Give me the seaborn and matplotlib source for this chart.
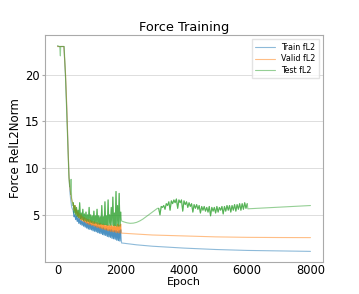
import numpy as np
import pandas as pd
import seaborn as sns
import matplotlib.pyplot as plt

# ---- data ----
# early part (epochs 0-475), one list per run
train_early_ep = [0, 200, 250, 290, 330, 360, 390, 420, 450, 475]
train_early = [23.0, 23.0, 20.0, 16.5, 12.5, 9.5, 7.5, 6.5, 5.8, 5.6]
valid_early_ep = [0, 200, 255, 295, 335, 365, 395, 420, 450, 475]
valid_early = [23.0, 23.0, 20.0, 16.5, 12.0, 9.0, 7.8, 7.2, 6.6, 6.3]
test_early_ep = [0, 50, 70, 90, 100, 210, 250, 290, 330, 360, 385, 400, 415, 430, 445, 460, 475]
test_early = [23.1, 23.0, 23.0, 22.0, 23.0, 23.0, 20.0, 16.0, 12.0, 9.0, 8.0, 8.7, 7.2, 8.8, 6.8, 6.5, 6.0]

# noisy part, epochs 500-2000 every 25
train_noisy = [5.4, 4.8, 5.0, 4.5, 4.9, 4.3, 4.7, 4.1, 4.6, 4.0, 4.4, 3.9, 4.3, 3.8, 4.3, 3.7,
               4.2, 3.6, 4.1, 3.5, 4.1, 3.45, 4.0, 3.4, 3.9, 3.3, 3.9, 3.25, 3.8, 3.2, 3.8, 3.1,
               3.7, 3.05, 3.7, 3.0, 3.6, 2.9, 3.6, 2.85, 3.5, 2.8, 3.5, 2.7, 3.4, 2.65, 3.4, 2.6,
               3.4, 2.5, 3.3, 2.45, 3.3, 2.4, 3.3, 2.3, 3.2, 2.25, 3.3, 2.2, 3.4]
valid_noisy = [6.2, 5.5, 6.0, 5.2, 5.6, 4.9, 5.3, 4.7, 5.1, 4.5, 5.0, 4.4, 4.8, 4.3, 4.7, 4.2,
               4.6, 4.1, 4.5, 4.0, 4.5, 3.95, 4.4, 3.9, 4.3, 3.85, 4.3, 3.8, 4.2, 3.7, 4.2, 3.65,
               4.1, 3.6, 4.1, 3.55, 4.0, 3.5, 4.0, 3.45, 3.9, 3.4, 3.9, 3.35, 3.9, 3.3, 3.85, 3.25,
               3.9, 3.2, 3.8, 3.2, 3.9, 3.15, 3.8, 3.1, 4.0, 3.1, 3.9, 3.05, 4.0]
test_noisy = [6.3, 5.2, 6.0, 5.0, 5.8, 4.8, 5.5, 4.7, 6.3, 4.6, 5.2, 4.5, 5.6, 4.4, 5.1, 4.4,
              5.3, 4.3, 5.0, 4.3, 5.8, 4.2, 5.0, 4.2, 4.9, 4.1, 5.4, 4.1, 4.9, 4.1, 5.6, 4.0,
              4.9, 4.0, 4.8, 4.0, 6.0, 4.0, 4.8, 3.95, 6.4, 3.95, 4.9, 3.9, 6.6, 3.9, 5.0, 3.9,
              5.8, 3.9, 6.9, 3.85, 5.2, 3.85, 7.5, 3.8, 6.0, 3.8, 7.3, 3.8, 5.3]

# late part after epoch 2000
train_late_ep = [2025, 2500, 3000, 4000, 5000, 6000, 7000, 8000]
train_late = [2.0, 1.8, 1.65, 1.45, 1.3, 1.2, 1.15, 1.1]
valid_late_ep = [2025, 2500, 3000, 4000, 5000, 6000, 7000, 8000]
valid_late = [3.05, 2.95, 2.85, 2.75, 2.65, 2.6, 2.58, 2.57]
test_bump_ep = [2025, 2100, 2200, 2300, 2400, 2500, 2600, 2700, 2800, 2900, 3000, 3100, 3160]
test_bump = [4.35, 4.25, 4.15, 4.1, 4.12, 4.2, 4.35, 4.55, 4.8, 5.05, 5.3, 5.55, 5.7]
# test noisy stretch, epochs 3200-6000 every 40
test_noisy2 = [5.7, 5.0, 5.9, 5.8, 6.0, 5.6, 6.2, 6.0, 6.4, 5.5, 6.5, 6.2, 6.6, 6.3, 6.7, 5.7,
               6.6, 6.3, 6.6, 5.4, 6.5, 6.1, 6.4, 5.8, 6.3, 5.9, 6.2, 5.3, 6.1, 5.7, 6.1, 5.6,
               6.0, 5.2, 5.9, 5.5, 5.9, 5.4, 5.8, 5.3, 5.9, 4.9, 5.8, 5.4, 5.8, 5.2, 5.9, 5.3,
               5.8, 5.5, 5.9, 5.1, 5.9, 5.4, 6.0, 5.5, 6.0, 5.3, 6.0, 5.5, 6.1, 5.4, 6.1, 5.6,
               6.2, 5.5, 6.2, 5.6, 6.3, 5.7, 6.2]
test_tail_ep = [6020, 8000]
test_tail = [5.65, 6.0]

runs = ["Train fL2", "Valid fL2", "Test fL2"]


def noisy_epochs(start, step, vals):
    return list(start + step * np.arange(len(vals)))


train_ep = train_early_ep + noisy_epochs(500, 25, train_noisy) + train_late_ep
train_val = train_early + train_noisy + train_late
valid_ep = valid_early_ep + noisy_epochs(500, 25, valid_noisy) + valid_late_ep
valid_val = valid_early + valid_noisy + valid_late
test_ep = (test_early_ep + noisy_epochs(500, 25, test_noisy) + test_bump_ep
           + noisy_epochs(3200, 40, test_noisy2) + test_tail_ep)
test_val = test_early + test_noisy + test_bump + test_noisy2 + test_tail

df = pd.concat([
    pd.DataFrame({"Epoch": train_ep, "val": train_val, "run": runs[0]}),
    pd.DataFrame({"Epoch": valid_ep, "val": valid_val, "run": runs[1]}),
    pd.DataFrame({"Epoch": test_ep, "val": test_val, "run": runs[2]}),
])

# noisy stretches drawn a second time so the dense bands come out darker
noisy = pd.concat([
    pd.DataFrame({"Epoch": noisy_epochs(500, 25, train_noisy), "val": train_noisy, "run": runs[0], "seg": 0}),
    pd.DataFrame({"Epoch": noisy_epochs(500, 25, valid_noisy), "val": valid_noisy, "run": runs[1], "seg": 1}),
    pd.DataFrame({"Epoch": noisy_epochs(500, 25, test_noisy), "val": test_noisy, "run": runs[2], "seg": 2}),
    pd.DataFrame({"Epoch": noisy_epochs(3200, 40, test_noisy2), "val": test_noisy2, "run": runs[2], "seg": 3}),
])

sns.set_style("whitegrid")
plt.rcParams.update({"text.color": "black", "axes.labelcolor": "black",
                     "xtick.color": "black", "ytick.color": "black"})
fig, ax = plt.subplots(figsize=(3.59, 2.94), dpi=100)
fig.subplots_adjust(left=0.125, right=0.9, top=0.88, bottom=0.11)

sns.lineplot(data=df, x="Epoch", y="val", hue="run", hue_order=runs, palette="tab10",
             alpha=0.5, linewidth=0.8, sort=False, estimator=None, ax=ax)
sns.lineplot(data=noisy, x="Epoch", y="val", hue="run", hue_order=runs, palette="tab10",
             units="seg", alpha=0.6, linewidth=0.8, sort=False, estimator=None,
             legend=False, ax=ax)

ax.set_title("Force Training", fontsize=9.3, pad=3)
ax.set_xlabel("Epoch", fontsize=8, labelpad=0)
ax.set_ylabel("Force RelL2Norm", fontsize=8.5, labelpad=2)
ax.set_xticks([0, 2000, 4000, 6000, 8000])
ax.set_yticks([5, 10, 15, 20])
ax.tick_params(axis="both", labelsize=8.3, pad=1.5)
ax.tick_params(axis="y", length=2.5, color="#aaaaaa", left=True)
ax.tick_params(axis="x", length=0)
ax.xaxis.grid(False)
ax.yaxis.grid(True, color="#dddddd", linewidth=0.7)
for s in ax.spines.values():
    s.set_color("#aaaaaa")
    s.set_linewidth(0.8)

leg = ax.legend(loc="upper right", fontsize=5.8, frameon=True, handlelength=2.5,
                borderpad=0.4, labelspacing=0.35, edgecolor="#dddddd", fancybox=False)
for t in leg.get_texts():
    t.set_color("black")

fig.savefig("out.png", dpi=100)
